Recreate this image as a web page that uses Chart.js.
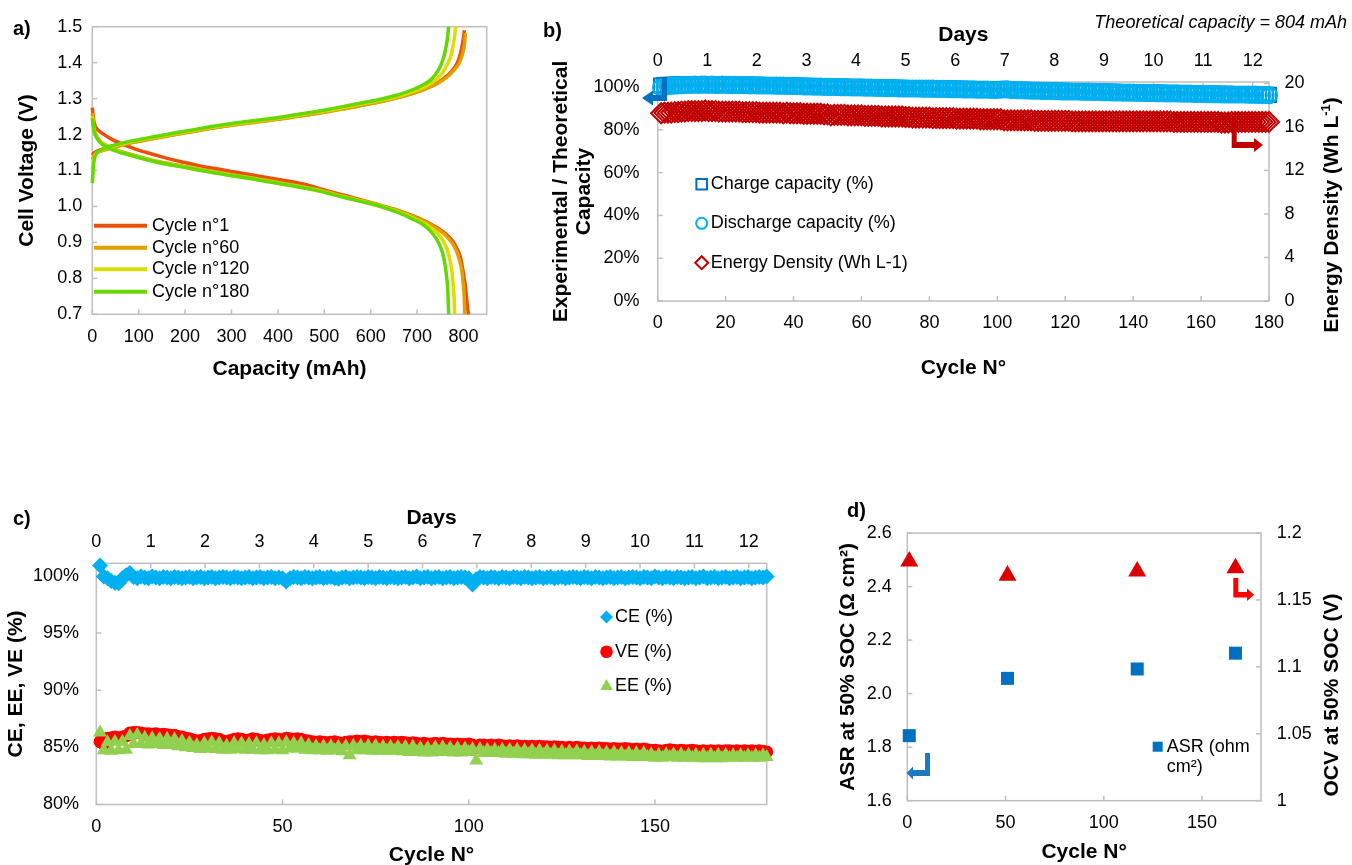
<!DOCTYPE html>
<html>
<head>
<meta charset="utf-8">
<script src="https://cdn.jsdelivr.net/npm/chart.js"></script>
<style>
  html, body { margin: 0; padding: 0; overflow: hidden; background: #fff; }
  body { width: 1352px; height: 865px; position: relative; font-family: "Liberation Sans", Arial, sans-serif; color: #000; }
  canvas { position: absolute; }
  .lbl { position: absolute; font-weight: bold; font-size: 20px; line-height: 20px; }
  .note { position: absolute; font-style: italic; font-size: 18px; line-height: 18px; white-space: nowrap; }
  .rot { position: absolute; font-weight: bold; font-size: 21px; line-height: 21px; white-space: nowrap;
         transform: translate(-50%, -50%) rotate(-90deg); }
  .rot sup { font-size: 13px; line-height: 0; }
</style>
</head>
<body>
<canvas id="chartA" width="500" height="390" style="left:0;top:0"></canvas>
<canvas id="chartB" width="822" height="390" style="left:530px;top:0"></canvas>
<canvas id="chartC" width="800" height="368" style="left:0;top:500px"></canvas>
<canvas id="chartD" width="532" height="375" style="left:820px;top:490px"></canvas>

<div class="lbl" style="left:13px;top:18px">a)</div>
<div class="lbl" style="left:543px;top:20px">b)</div>
<div class="lbl" style="left:13px;top:508px">c)</div>
<div class="lbl" style="left:847px;top:500px">d)</div>
<div class="note" style="right:5px;top:13px">Theoretical capacity = 804 mAh</div>
<div class="rot" style="left:1330px;top:215px">Energy Density (Wh L<sup>-1</sup>)</div>
<div class="rot" style="left:1330px;top:695px">OCV at 50% SOC (V)</div>

<script>
// ---- a) voltage curves, [capacity mAh, voltage V]
const cycle1Charge = [[0,1.143],[3,1.148],[8,1.152],[17,1.157],[30,1.161],[45,1.166],[80,1.177],[117,1.186],[150,1.194],[189,1.203],[225,1.211],[261,1.219],[297,1.226],[333,1.232],[369,1.238],[405,1.244],[441,1.251],[477,1.258],[513,1.266],[549,1.274],[585,1.283],[621,1.292],[657,1.303],[693,1.316],[720,1.329],[745,1.345],[765,1.364],[780,1.385],[790,1.41],[796,1.44],[800,1.47],[802,1.49]];
const cycle60Charge = [[0,1.13],[3,1.14],[8,1.147],[17,1.153],[30,1.158],[45,1.164],[80,1.176],[117,1.185],[150,1.193],[189,1.202],[225,1.21],[261,1.218],[297,1.225],[333,1.231],[369,1.237],[405,1.243],[441,1.25],[477,1.257],[513,1.265],[549,1.273],[585,1.282],[621,1.291],[657,1.302],[693,1.315],[720,1.328],[745,1.343],[765,1.36],[780,1.38],[791,1.4],[798,1.425],[802,1.45],[804,1.482]];
const cycle120Charge = [[0,1.1],[3,1.13],[8,1.147],[17,1.155],[30,1.162],[45,1.168],[80,1.179],[117,1.188],[150,1.196],[189,1.205],[225,1.213],[261,1.221],[297,1.228],[333,1.234],[369,1.24],[405,1.246],[441,1.253],[477,1.261],[513,1.268],[549,1.277],[585,1.286],[621,1.295],[657,1.306],[693,1.32],[720,1.335],[740,1.352],[755,1.372],[765,1.395],[773,1.42],[778,1.45],[781,1.475],[783,1.5]];
const cycle180Charge = [[0,1.065],[3,1.12],[8,1.145],[17,1.156],[30,1.164],[45,1.17],[80,1.181],[117,1.19],[150,1.198],[189,1.207],[225,1.215],[261,1.223],[297,1.23],[333,1.236],[369,1.242],[405,1.248],[441,1.256],[477,1.263],[513,1.271],[549,1.28],[585,1.289],[621,1.298],[657,1.31],[693,1.326],[715,1.34],[729,1.352],[740,1.368],[750,1.389],[756,1.41],[761,1.435],[765,1.465],[768,1.5]];
const cycle1Discharge = [[0,1.275],[3,1.24],[6,1.224],[12,1.213],[24,1.201],[40,1.188],[60,1.176],[90,1.161],[117,1.15],[150,1.138],[189,1.125],[225,1.115],[261,1.106],[297,1.098],[333,1.09],[369,1.082],[405,1.074],[441,1.066],[463,1.06],[500,1.046],[549,1.029],[585,1.016],[621,1.003],[657,0.99],[693,0.973],[720,0.957],[736,0.946],[752,0.933],[765,0.92],[777,0.903],[786,0.882],[793,0.86],[797,0.835],[801,0.805],[804,0.778],[807,0.74],[809,0.715],[811,0.7]];
const cycle60Discharge = [[0,1.26],[3,1.225],[6,1.207],[17,1.182],[30,1.17],[45,1.16],[80,1.146],[117,1.133],[150,1.123],[189,1.114],[225,1.105],[261,1.097],[297,1.089],[333,1.082],[369,1.074],[405,1.066],[441,1.058],[477,1.049],[513,1.038],[549,1.026],[585,1.015],[621,1.003],[657,0.989],[693,0.972],[720,0.956],[740,0.941],[755,0.927],[767,0.912],[777,0.895],[785,0.875],[791,0.852],[796,0.825],[799,0.79],[801,0.76],[802,0.73],[803,0.7]];
const cycle120Discharge = [[0,1.25],[3,1.218],[6,1.203],[17,1.18],[30,1.168],[45,1.158],[80,1.144],[117,1.131],[150,1.121],[189,1.112],[225,1.103],[261,1.095],[297,1.087],[333,1.08],[369,1.072],[405,1.064],[441,1.056],[477,1.047],[513,1.036],[549,1.024],[585,1.013],[621,1.001],[657,0.986],[693,0.967],[715,0.953],[730,0.94],[745,0.924],[756,0.905],[765,0.88],[771,0.85],[775,0.82],[778,0.78],[780,0.74],[781,0.7]];
const cycle180Discharge = [[0,1.245],[3,1.215],[6,1.2],[17,1.178],[30,1.166],[45,1.157],[80,1.143],[117,1.13],[150,1.12],[189,1.111],[225,1.102],[261,1.094],[297,1.086],[333,1.079],[369,1.071],[405,1.063],[441,1.055],[477,1.046],[513,1.035],[549,1.023],[585,1.012],[621,1.0],[657,0.984],[693,0.963],[710,0.952],[722,0.94],[733,0.925],[743,0.907],[751,0.885],[757,0.86],[761,0.83],[764,0.8],[766,0.77],[767,0.74],[768,0.7]];

// ---- b) and c) cycling data, one value per cycle
const cycles = [1,2,3,4,5,6,7,8,9,10,
  11,12,13,14,15,16,17,18,19,20,
  21,22,23,24,25,26,27,28,29,30,
  31,32,33,34,35,36,37,38,39,40,
  41,42,43,44,45,46,47,48,49,50,
  51,52,53,54,55,56,57,58,59,60,
  61,62,63,64,65,66,67,68,69,70,
  71,72,73,74,75,76,77,78,79,80,
  81,82,83,84,85,86,87,88,89,90,
  91,92,93,94,95,96,97,98,99,100,
  101,102,103,104,105,106,107,108,109,110,
  111,112,113,114,115,116,117,118,119,120,
  121,122,123,124,125,126,127,128,129,130,
  131,132,133,134,135,136,137,138,139,140,
  141,142,143,144,145,146,147,148,149,150,
  151,152,153,154,155,156,157,158,159,160,
  161,162,163,164,165,166,167,168,169,170,
  171,172,173,174,175,176,177,178,179,180];
const chargePct = [100.7,100.9,101.0,101.0,101.0,101.1,101.1,101.2,101.2,101.2,
  101.2,101.1,101.2,101.2,101.1,101.2,101.1,101.1,101.2,101.1,
  101.1,101.0,101.1,101.0,101.0,101.0,100.9,101.0,100.9,100.9,
  100.9,100.8,100.8,100.8,100.7,100.7,100.7,100.6,100.6,100.6,
  100.5,100.5,100.4,100.4,100.4,100.3,100.3,100.3,100.2,100.2,
  100.1,100.1,100.1,100.0,100.0,100.0,99.9,99.9,99.9,99.9,
  99.8,99.8,99.8,99.7,99.7,99.7,99.6,99.6,99.6,99.6,
  99.5,99.5,99.5,99.4,99.4,99.4,99.4,99.3,99.3,99.3,
  99.3,99.2,99.2,99.2,99.2,99.1,99.1,99.1,99.1,99.0,
  99.0,99.0,99.0,98.9,98.9,98.9,98.9,98.8,98.8,98.8,
  98.9,99.0,99.0,98.8,98.7,98.6,98.6,98.5,98.5,98.4,
  98.4,98.4,98.3,98.3,98.3,98.2,98.2,98.2,98.1,98.1,
  98.1,98.0,98.0,98.0,97.9,97.9,97.9,97.8,97.8,97.8,
  97.7,97.7,97.7,97.6,97.6,97.6,97.5,97.5,97.5,97.5,
  97.4,97.4,97.4,97.3,97.3,97.3,97.2,97.2,97.2,97.1,
  97.1,97.1,97.1,97.0,97.0,97.0,97.0,96.9,96.9,96.9,
  96.9,96.8,96.8,96.8,96.8,96.7,96.7,96.7,96.7,96.6,
  96.6,96.6,96.6,96.5,96.5,96.5,96.4,96.4,96.4,96.3];
const dischargePct = [99.8,100.1,100.4,100.6,100.7,100.8,100.9,101.0,101.0,101.0,
  101.1,101.0,101.1,101.1,101.0,101.1,101.0,101.0,101.1,101.0,
  101.0,100.9,101.0,100.9,100.9,100.9,100.8,100.9,100.8,100.8,
  100.8,100.7,100.7,100.7,100.6,100.6,100.6,100.5,100.5,100.5,
  100.4,100.4,100.3,100.3,100.3,100.2,100.2,100.2,100.1,100.1,
  100.0,100.0,100.0,99.9,99.9,99.9,99.8,99.8,99.8,99.8,
  99.7,99.7,99.7,99.6,99.6,99.6,99.5,99.5,99.5,99.5,
  99.4,99.4,99.4,99.3,99.3,99.3,99.3,99.2,99.2,99.2,
  99.2,99.1,99.1,99.1,99.1,99.0,99.0,99.0,99.0,98.9,
  98.9,98.9,98.9,98.8,98.8,98.8,98.8,98.7,98.7,98.7,
  98.8,98.9,98.9,98.7,98.6,98.5,98.5,98.4,98.4,98.3,
  98.3,98.3,98.2,98.2,98.2,98.1,98.1,98.1,98.0,98.0,
  98.0,97.9,97.9,97.9,97.8,97.8,97.8,97.7,97.7,97.7,
  97.6,97.6,97.6,97.5,97.5,97.5,97.4,97.4,97.4,97.4,
  97.3,97.3,97.3,97.2,97.2,97.2,97.1,97.1,97.1,97.0,
  97.0,97.0,97.0,96.9,96.9,96.9,96.9,96.8,96.8,96.8,
  96.8,96.7,96.7,96.7,96.7,96.6,96.6,96.6,96.6,96.5,
  96.5,96.5,96.5,96.4,96.4,96.4,96.3,96.3,96.3,96.2];
const energyDensity = [17.25,17.3,17.3,17.3,17.35,17.35,17.4,17.4,17.45,17.45,
  17.45,17.45,17.45,17.5,17.45,17.45,17.45,17.4,17.4,17.4,
  17.4,17.4,17.4,17.4,17.35,17.35,17.35,17.35,17.35,17.3,
  17.3,17.3,17.3,17.3,17.3,17.3,17.25,17.3,17.25,17.25,
  17.25,17.25,17.2,17.2,17.2,17.2,17.2,17.2,17.15,17.15,
  17.05,17.1,17.1,17.1,17.1,17.05,17.05,17.05,17.05,17.05,
  17.0,17.0,17.0,17.0,17.0,16.95,16.95,16.95,16.95,16.95,
  16.95,16.95,16.9,16.9,16.85,16.85,16.85,16.85,16.85,16.85,
  16.8,16.8,16.8,16.8,16.8,16.8,16.8,16.75,16.75,16.75,
  16.75,16.75,16.75,16.75,16.7,16.7,16.7,16.7,16.7,16.7,
  16.7,16.6,16.6,16.6,16.6,16.6,16.6,16.6,16.6,16.6,
  16.55,16.55,16.55,16.55,16.55,16.55,16.55,16.55,16.55,16.55,
  16.55,16.5,16.5,16.5,16.5,16.5,16.5,16.5,16.5,16.5,
  16.5,16.5,16.5,16.5,16.5,16.5,16.5,16.5,16.5,16.5,
  16.5,16.5,16.5,16.5,16.5,16.5,16.5,16.5,16.5,16.5,
  16.5,16.45,16.45,16.45,16.45,16.45,16.45,16.45,16.45,16.45,
  16.45,16.45,16.45,16.45,16.45,16.4,16.4,16.4,16.45,16.45,
  16.45,16.45,16.45,16.45,16.45,16.45,16.45,16.45,16.45,16.45];
const cePct = [100.9,99.95,99.8,99.55,99.4,99.35,99.8,100.05,100.25,99.9,
  99.8,99.95,99.85,99.8,99.95,99.85,99.8,99.9,99.85,99.8,
  99.9,99.85,99.8,99.85,99.9,99.8,99.85,99.9,99.8,99.85,
  99.9,99.8,99.85,99.9,99.85,99.8,99.9,99.85,99.8,99.85,
  99.9,99.8,99.85,99.9,99.8,99.85,99.9,99.8,99.85,99.8,
  99.5,99.8,99.9,99.85,99.8,99.9,99.85,99.8,99.85,99.9,
  99.8,99.85,99.9,99.8,99.75,99.85,99.9,99.8,99.85,99.9,
  99.85,99.8,99.9,99.85,99.8,99.9,99.85,99.8,99.9,99.85,
  99.8,99.85,99.9,99.8,99.85,99.95,99.8,99.85,99.9,99.8,
  99.85,99.9,99.8,99.85,99.9,99.8,99.85,99.9,99.85,99.8,
  99.25,99.7,99.9,99.85,99.8,99.9,99.85,99.8,99.9,99.85,
  99.8,99.9,99.85,99.8,99.9,99.85,99.8,99.85,99.9,99.8,
  99.85,99.9,99.8,99.85,99.9,99.8,99.85,99.9,99.85,99.8,
  99.9,99.85,99.8,99.9,99.85,99.8,99.85,99.9,99.8,99.85,
  99.9,99.8,99.85,99.9,99.85,99.8,99.9,99.85,99.8,99.95,
  99.85,99.8,99.9,99.85,99.8,99.9,99.85,99.8,99.85,99.9,
  99.8,99.85,99.95,99.8,99.85,99.9,99.8,99.85,99.9,99.8,
  99.85,99.9,99.8,99.85,99.9,99.8,99.85,99.9,99.85,99.95];
const vePct = [85.5,85.3,85.8,85.85,85.9,85.85,85.9,86.0,86.25,86.3,
  86.3,86.25,86.2,86.2,86.15,86.2,86.1,86.15,86.1,86.05,
  86.05,85.95,85.9,85.8,85.75,85.65,85.55,85.6,85.7,85.75,
  85.8,85.75,85.7,85.55,85.5,85.6,85.7,85.75,85.7,85.6,
  85.65,85.75,85.7,85.6,85.55,85.65,85.7,85.75,85.7,85.65,
  85.8,85.75,85.7,85.75,85.7,85.6,85.55,85.5,85.45,85.5,
  85.45,85.4,85.45,85.5,85.4,85.35,85.45,85.5,85.5,85.55,
  85.5,85.55,85.5,85.45,85.5,85.45,85.4,85.45,85.4,85.45,
  85.4,85.45,85.4,85.35,85.4,85.35,85.3,85.35,85.3,85.3,
  85.35,85.3,85.35,85.3,85.3,85.25,85.3,85.25,85.25,85.3,
  85.2,85.0,85.2,85.2,85.15,85.2,85.15,85.2,85.15,85.1,
  85.15,85.1,85.15,85.1,85.1,85.05,85.1,85.05,85.1,85.05,
  85.05,85.0,85.05,85.0,85.0,84.95,85.0,84.95,85.0,84.95,
  84.95,84.9,84.95,84.9,84.95,84.9,84.9,84.85,84.9,84.85,
  84.85,84.9,84.85,84.8,84.85,84.8,84.85,84.8,84.75,84.75,
  84.7,84.65,84.75,84.8,84.75,84.7,84.75,84.7,84.7,84.75,
  84.7,84.65,84.7,84.65,84.7,84.65,84.7,84.65,84.7,84.7,
  84.65,84.7,84.65,84.7,84.65,84.7,84.65,84.7,84.65,84.6];
const eePct = [86.3,84.75,85.45,84.7,85.5,84.75,85.5,84.8,86.0,85.3,
  86.1,85.3,85.85,85.25,85.8,85.3,85.75,85.2,85.75,85.2,
  85.7,85.1,85.55,85.0,85.4,84.95,85.2,84.85,85.35,84.9,
  85.45,84.85,85.35,84.8,85.15,84.8,85.35,84.85,85.35,84.8,
  85.3,84.8,85.35,84.75,85.2,84.75,85.35,84.8,85.35,84.75,
  85.45,84.9,85.35,84.9,85.35,84.8,85.2,84.75,85.1,84.75,
  85.1,84.7,85.1,84.75,85.05,84.65,85.1,84.3,85.15,84.75,
  85.15,84.75,85.15,84.7,85.15,84.7,85.05,84.7,85.05,84.7,
  85.05,84.65,85.05,84.6,85.05,84.6,84.95,84.55,84.95,84.55,
  85.0,84.6,85.0,84.6,84.95,84.55,84.95,84.55,84.9,84.6,
  84.85,83.85,84.85,84.5,84.8,84.5,84.8,84.5,84.8,84.45,
  84.8,84.45,84.8,84.4,84.75,84.4,84.75,84.35,84.75,84.35,
  84.7,84.35,84.7,84.3,84.65,84.3,84.65,84.3,84.65,84.3,
  84.6,84.25,84.6,84.25,84.6,84.25,84.55,84.2,84.55,84.2,
  84.5,84.2,84.5,84.15,84.5,84.15,84.5,84.15,84.4,84.1,
  84.35,84.1,84.4,84.15,84.4,84.1,84.4,84.1,84.35,84.1,
  84.35,84.05,84.35,84.05,84.35,84.05,84.35,84.05,84.35,84.1,
  84.3,84.1,84.3,84.1,84.3,84.1,84.3,84.1,84.3,84.15];

// ---- d) ASR / OCV at 50% SOC
const socCycles = [1, 51, 117, 167];
const asrValues = [1.843, 2.057, 2.092, 2.151];
const ocvValues = [1.1788, 1.1683, 1.1713, 1.1738];

const FONT = '"Liberation Sans", Arial, sans-serif';
Chart.defaults.font.family = FONT;
Chart.defaults.font.size = 18;
Chart.defaults.color = '#000';
Chart.defaults.animation = false;
Chart.defaults.events = [];
Chart.defaults.plugins.legend.display = false;
Chart.defaults.plugins.tooltip.enabled = false;

const pairs = arr => arr.map(([x, y]) => ({ x, y }));
const pts = (xs, ys) => xs.map((x, i) => ({ x, y: ys[i] }));
const titleFont = { size: 21, weight: 'bold' };

// axis helper: hide lib grid, force box size so plot areas line up
function axis(extra, size) {
  const base = {
    type: 'linear',
    grid: { display: false, drawTicks: false },
    border: { display: false },
    afterFit: s => { if (s.isHorizontal()) s.height = size; else s.width = size; }
  };
  const ticks = Object.assign({ includeBounds: false, autoSkip: false, maxRotation: 0 }, extra.ticks || {});
  return Object.assign(base, extra, { ticks });
}

function drawMarker(ctx, style, x, y, r) {
  ctx.beginPath();
  if (style === 'rect') {
    const s = r * Math.SQRT1_2;
    ctx.rect(x - s, y - s, 2 * s, 2 * s);
  } else if (style === 'circle') {
    ctx.arc(x, y, r, 0, Math.PI * 2);
  } else if (style === 'rectRot') {
    ctx.moveTo(x - r, y); ctx.lineTo(x, y - r); ctx.lineTo(x + r, y); ctx.lineTo(x, y + r); ctx.closePath();
  } else if (style === 'triangle') {
    ctx.moveTo(x, y - r); ctx.lineTo(x + r * 0.866, y + r / 2); ctx.lineTo(x - r * 0.866, y + r / 2); ctx.closePath();
  }
}

// plot frame + inside tick marks
const framePlugin = {
  id: 'frame',
  beforeDatasetsDraw(chart) {
    const { ctx, chartArea: a } = chart;
    ctx.save();
    ctx.strokeStyle = '#bfbfbf';
    ctx.lineWidth = 1.5;
    Object.values(chart.scales).forEach(s => {
      s.ticks.forEach(t => {
        const p = s.getPixelForValue(t.value);
        ctx.beginPath();
        if (s.position === 'bottom') { ctx.moveTo(p, a.bottom); ctx.lineTo(p, a.bottom - 5); }
        else if (s.position === 'top') { ctx.moveTo(p, a.top); ctx.lineTo(p, a.top + 5); }
        else if (s.position === 'left') { ctx.moveTo(a.left, p); ctx.lineTo(a.left + 5, p); }
        else { ctx.moveTo(a.right, p); ctx.lineTo(a.right - 5, p); }
        ctx.stroke();
      });
    });
    ctx.strokeRect(a.left, a.top, a.right - a.left, a.bottom - a.top);
    ctx.restore();
  }
};

// legend drawn inside the plot, styled from the datasets
function insideLegend(rows) {
  return {
    id: 'insideLegend',
    afterDraw(chart) {
      const ctx = chart.ctx;
      ctx.save();
      ctx.font = '18px ' + FONT;
      ctx.textBaseline = 'middle';
      rows.forEach(r => {
        const ds = chart.data.datasets[r.ds];
        ctx.strokeStyle = ds.borderColor;
        ctx.fillStyle = ds.backgroundColor;
        if (r.line) {
          ctx.lineWidth = 4;
          ctx.beginPath(); ctx.moveTo(r.x, r.y); ctx.lineTo(r.x + r.line, r.y); ctx.stroke();
        } else {
          drawMarker(ctx, ds.pointStyle, r.x, r.y, r.r);
          ctx.fill();
          if (r.stroke) { ctx.lineWidth = 2; ctx.stroke(); }
        }
        ctx.fillStyle = '#000';
        (r.text || [ds.label]).forEach((t, i) => ctx.fillText(t, r.tx, r.y + i * 20.5));
      });
      ctx.restore();
    }
  };
}

// bent arrows pointing to the axis of each series
function arrowsPlugin(shapes) {
  return {
    id: 'arrows',
    afterDatasetsDraw(chart) {
      const ctx = chart.ctx;
      ctx.save();
      shapes.forEach(s => {
        ctx.fillStyle = s.color;
        ctx.beginPath();
        s.pts.forEach(([x, y], i) => i ? ctx.lineTo(x - s.dx, y - s.dy) : ctx.moveTo(x - s.dx, y - s.dy));
        ctx.closePath();
        ctx.fill();
      });
      ctx.restore();
    }
  };
}

// ================= a) =================
const cycleColors = ['#E8500C', '#E0A000', '#DEDC00', '#66D800'];
const cycleNames = ['Cycle n°1', 'Cycle n°60', 'Cycle n°120', 'Cycle n°180'];
const chargeCurves = [cycle1Charge, cycle60Charge, cycle120Charge, cycle180Charge];
const dischargeCurves = [cycle1Discharge, cycle60Discharge, cycle120Discharge, cycle180Discharge];
const curveSets = [];
cycleNames.forEach((name, i) => {
  [chargeCurves[i], dischargeCurves[i]].forEach((curve, k) => {
    curveSets.push({
      label: k === 0 ? name : name + ' discharge',
      data: pairs(curve),
      showLine: true,
      pointRadius: 0,
      borderColor: cycleColors[i],
      backgroundColor: cycleColors[i],
      borderWidth: 3.5,
      cubicInterpolationMode: 'monotone',
      order: 4 - i,
      clip: false
    });
  });
});

new Chart(document.getElementById('chartA'), {
  type: 'scatter',
  data: { datasets: curveSets },
  options: {
    responsive: false,
    layout: { padding: { left: 0, top: 26.7, right: 13.3, bottom: 0 } },
    scales: {
      x: axis({ position: 'bottom', min: 0, max: 850,
        ticks: { stepSize: 100, padding: 12 },
        title: { display: true, text: 'Capacity (mAh)', font: titleFont, padding: { top: 0, bottom: 8.4 } } }, 75.7),
      y: axis({ position: 'left', min: 0.7, max: 1.5,
        ticks: { stepSize: 0.1, padding: 10, callback: v => v.toFixed(1) },
        title: { display: true, text: 'Cell Voltage (V)', font: titleFont, padding: { top: 14.4, bottom: 0 } } }, 92.3)
    }
  },
  plugins: [framePlugin, insideLegend([
    { ds: 0, x: 94, y: 225.7, line: 53, tx: 152 },
    { ds: 2, x: 94, y: 247.7, line: 53, tx: 152 },
    { ds: 4, x: 94, y: 269.3, line: 53, tx: 152 },
    { ds: 6, x: 94, y: 291.7, line: 53, tx: 152 }
  ])]
});

// ================= b) =================
new Chart(document.getElementById('chartB'), {
  type: 'scatter',
  data: {
    datasets: [
      { label: 'Charge capacity (%)', data: pts(cycles, chargePct), pointStyle: 'rect', pointRadius: 10,
        borderColor: '#0070C0', backgroundColor: 'rgba(0,0,0,0)', borderWidth: 2, yAxisID: 'y', order: 2, clip: false },
      { label: 'Discharge capacity (%)', data: pts(cycles, dischargePct), pointStyle: 'circle', pointRadius: 8,
        borderColor: '#00B0F0', backgroundColor: 'rgba(0,0,0,0)', borderWidth: 2.2, yAxisID: 'y', order: 1, clip: false },
      { label: 'Energy Density (Wh L-1)', data: pts(cycles, energyDensity), pointStyle: 'rectRot', pointRadius: 10,
        borderColor: '#C00000', backgroundColor: 'rgba(0,0,0,0)', borderWidth: 2, yAxisID: 'y2', order: 3, clip: false }
    ]
  },
  options: {
    responsive: false,
    layout: { padding: 0 },
    scales: {
      x: axis({ position: 'bottom', min: 0, max: 180,
        ticks: { stepSize: 20, padding: 11.2 },
        title: { display: true, text: 'Cycle N°', font: titleFont, padding: { top: 0, bottom: 9.1 } } }, 89),
      x2: axis({ position: 'top', min: 0, max: 12.33,
        ticks: { stepSize: 1, padding: 10.2 },
        title: { display: true, text: 'Days', font: titleFont, padding: { top: 22.4, bottom: 0 } } }, 82),
      y: axis({ position: 'left', min: 0, max: 102.34,
        ticks: { stepSize: 20, padding: 18.2, callback: v => v + '%' },
        title: { display: true, text: ['Experimental / Theoretical', 'Capacity'],
          font: { size: 21, weight: 'bold', lineHeight: 1.1 }, padding: { top: 20, bottom: 0 } } }, 127.7),
      y2: axis({ position: 'right', min: 0, max: 20.12,
        ticks: { stepSize: 4, padding: 15.5 } }, 83)
    }
  },
  plugins: [framePlugin, insideLegend([
    { ds: 0, x: 171.7, y: 184.3, r: 7.5, stroke: true, tx: 180.7 },
    { ds: 1, x: 171.7, y: 223.3, r: 5.5, stroke: true, tx: 180.7 },
    { ds: 2, x: 171.7, y: 262.7, r: 6.5, stroke: true, tx: 180.7 }
  ]), arrowsPlugin([
    { color: '#0070C0', dx: 530, dy: 0,
      pts: [[662,77],[667,77],[667,101],[653,101],[653,105.5],[642,98],[653,90.5],[653,95],[662,95]] },
    { color: '#C00000', dx: 530, dy: 0,
      pts: [[1231.7,123],[1236.7,123],[1236.7,142],[1254,142],[1254,138],[1263,145],[1254,152],[1254,148],[1231.7,148]] }
  ])]
});

// ================= c) =================
new Chart(document.getElementById('chartC'), {
  type: 'scatter',
  data: {
    datasets: [
      { label: 'CE (%)', data: pts(cycles, cePct), pointStyle: 'rectRot', pointRadius: 8,
        borderColor: '#00B0F0', backgroundColor: '#00B0F0', borderWidth: 0, order: 3, clip: false },
      { label: 'VE (%)', data: pts(cycles, vePct), pointStyle: 'circle', pointRadius: 6.5,
        borderColor: '#FF0000', backgroundColor: '#FF0000', borderWidth: 0, order: 2, clip: false },
      { label: 'EE (%)', data: pts(cycles, eePct), pointStyle: 'triangle', pointRadius: 8,
        borderColor: '#92D050', backgroundColor: '#92D050', borderWidth: 0, order: 1, clip: false }
    ]
  },
  options: {
    responsive: false,
    layout: { padding: { left: 0, top: 0, right: 33.3, bottom: 0 } },
    scales: {
      x: axis({ position: 'bottom', min: 0, max: 180,
        ticks: { stepSize: 50, padding: 11.4 },
        title: { display: true, text: 'Cycle N°', font: titleFont, padding: { top: 0, bottom: 0.4 } } }, 63.5),
      x2: axis({ position: 'top', min: 0, max: 12.33,
        ticks: { stepSize: 1, padding: 10.8 },
        title: { display: true, text: 'Days', font: titleFont, padding: { top: 5.7, bottom: 0 } } }, 63.3),
      y: axis({ position: 'left', min: 80, max: 101.1,
        ticks: { stepSize: 5, padding: 17.3, callback: v => v + '%' },
        title: { display: true, text: 'CE, EE, VE (%)', font: titleFont, padding: { top: 4.1, bottom: 0 } } }, 96.3)
    }
  },
  plugins: [framePlugin, insideLegend([
    { ds: 0, x: 606.5, y: 117, r: 6.5, tx: 615 },
    { ds: 1, x: 606.5, y: 151.7, r: 6.3, tx: 615 },
    { ds: 2, x: 606.5, y: 186.3, r: 7.3, tx: 615 }
  ])]
});

// ================= d) =================
new Chart(document.getElementById('chartD'), {
  type: 'scatter',
  data: {
    datasets: [
      { label: 'ASR (ohm cm²)', data: pts(socCycles, asrValues), pointStyle: 'rect', pointRadius: 9.2,
        borderColor: '#0070C0', backgroundColor: '#0070C0', borderWidth: 0, yAxisID: 'y', clip: false },
      { label: 'OCV (V)', data: pts(socCycles, ocvValues), pointStyle: 'triangle', pointRadius: 10.4,
        borderColor: '#DD0000', backgroundColor: '#DD0000', borderWidth: 0, yAxisID: 'y2', clip: false }
    ]
  },
  options: {
    responsive: false,
    layout: { padding: { left: 0, top: 43, right: 0, bottom: 0 } },
    scales: {
      x: axis({ position: 'bottom', min: 0, max: 180,
        ticks: { stepSize: 50, padding: 11.8 },
        title: { display: true, text: 'Cycle N°', font: titleFont, padding: { top: 0, bottom: 0 } } }, 64.3),
      y: axis({ position: 'left', min: 1.6, max: 2.6,
        ticks: { stepSize: 0.2, padding: 15.6, callback: v => v.toFixed(1) },
        title: { display: true, text: 'ASR at 50% SOC (Ω cm²)', font: titleFont, padding: { top: 15.7, bottom: 0 } } }, 87.3),
      y2: axis({ position: 'right', min: 1, max: 1.2,
        ticks: { stepSize: 0.05, padding: 15.7, callback: v => String(+v.toFixed(2)) } }, 91)
    }
  },
  plugins: [framePlugin, insideLegend([
    { ds: 0, x: 337.7, y: 256.7, r: 7.1, tx: 346.7, text: ['ASR (ohm', 'cm²)'] }
  ]), arrowsPlugin([
    { color: '#1F78C4', dx: 820, dy: 490,
      pts: [[925,753],[930,753],[930,776],[913,776],[913,779.5],[906.5,773],[913,766.5],[913,770],[925,770]] },
    { color: '#FF0000', dx: 820, dy: 490,
      pts: [[1233.3,578],[1238.3,578],[1238.3,592],[1247,592],[1247,588.5],[1254,594.7],[1247,601],[1247,597.5],[1233.3,597.5]] }
  ])]
});
</script>
</body>
</html>
